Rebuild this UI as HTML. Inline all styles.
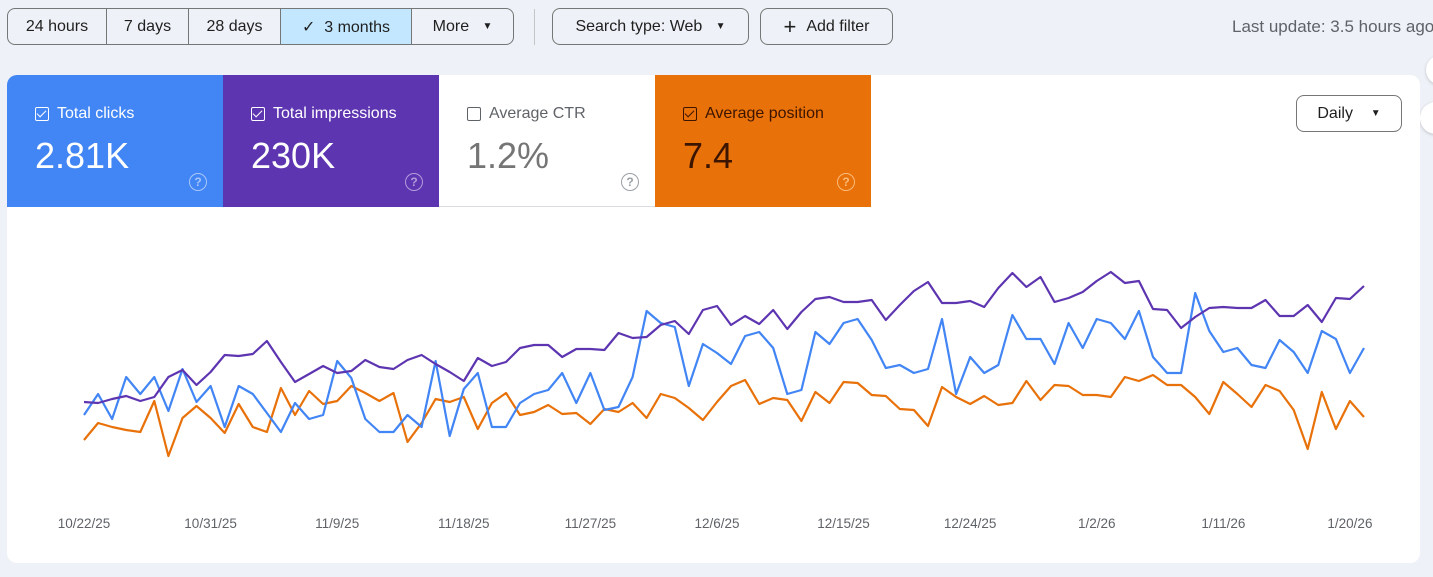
<!DOCTYPE html>
<html><head><meta charset="utf-8"><style>
*{box-sizing:border-box;margin:0;padding:0}
body{width:1433px;height:577px;background:#eef1f7;font-family:"Liberation Sans",sans-serif;position:relative;overflow:hidden}
.abs{position:absolute}
.seg{position:absolute;top:8px;height:37px;border:1px solid #747775;display:flex;align-items:center;justify-content:center;font-size:16px;color:#1f1f1f;background:#eef1f7}
.btn{position:absolute;top:8px;height:37px;border:1px solid #747775;border-radius:8px;display:flex;align-items:center;justify-content:center;font-size:16px;color:#1f1f1f}
.tile{position:absolute;top:75px;height:132px;width:216px}
.tl{position:absolute;left:28px;top:30px;font-size:16px;display:flex;align-items:center;gap:8px}
.cb{width:14px;height:14px;border:1.5px solid currentColor;border-radius:2px;position:relative}
.cb.on::after{content:"";position:absolute;left:3px;top:0px;width:4px;height:8px;border:solid currentColor;border-width:0 1.6px 1.6px 0;transform:rotate(45deg)}
.tv{position:absolute;left:28px;top:60px;font-size:36px}
.help{position:absolute;left:182px;top:98px;width:18px;height:18px;border:1.6px solid;border-radius:50%;font-size:12px;font-weight:bold;display:flex;align-items:center;justify-content:center}
</style></head><body>
<div class="seg" style="left:7px;width:100px;border-radius:8px 0 0 8px">24 hours</div>
<div class="seg" style="left:106px;width:83px">7 days</div>
<div class="seg" style="left:188px;width:93px">28 days</div>
<div class="seg" style="left:280px;width:132px;background:#c2e7ff">✓&nbsp;&nbsp;3 months</div>
<div class="seg" style="left:411px;width:103px;border-radius:0 8px 8px 0">More&nbsp;&nbsp;&nbsp;<span style="font-size:10px">▼</span></div>
<div class="abs" style="left:534px;top:9px;width:1px;height:36px;background:#c4c7c5"></div>
<div class="btn" style="left:552px;width:197px">Search type: Web&nbsp;&nbsp;&nbsp;<span style="font-size:10px">▼</span></div>
<div class="btn" style="left:760px;width:133px"><span style="font-size:22px;font-weight:300;margin-right:10px">+</span>Add filter</div>
<div class="abs" style="left:1232px;top:17px;font-size:17px;color:#5f6368;white-space:nowrap">Last update: 3.5 hours ago</div>
<div class="abs" style="left:1426px;top:55px;width:30px;height:30px;border-radius:50%;background:#fff;box-shadow:0 1px 3px rgba(0,0,0,.2)"></div>
<div class="abs" style="left:1420px;top:102px;width:32px;height:32px;border-radius:50%;background:#fff;box-shadow:0 1px 3px rgba(0,0,0,.2)"></div>

<div class="abs" style="left:7px;top:75px;width:1413px;height:488px;background:#fff;border-radius:10px;overflow:hidden">
</div>
<div class="tile" style="left:7px;background:#4285f4;color:#fff;border-radius:10px 0 0 0">
 <div class="tl"><span class="cb on"></span><span>Total clicks</span></div>
 <div class="tv">2.81K</div>
 <div class="help" style="color:#a8c7fa">?</div>
</div>
<div class="tile" style="left:223px;background:#5e35b1;color:#fff">
 <div class="tl"><span class="cb on"></span><span>Total impressions</span></div>
 <div class="tv">230K</div>
 <div class="help" style="color:#b39ddb">?</div>
</div>
<div class="tile" style="left:439px;background:#fff;color:#5f6368;border-bottom:1px solid #dadce0">
 <div class="tl"><span class="cb"></span><span>Average CTR</span></div>
 <div class="tv" style="color:#757575">1.2%</div>
 <div class="help" style="color:#9aa0a6">?</div>
</div>
<div class="tile" style="left:655px;background:#e8710a;color:#3c1500">
 <div class="tl"><span class="cb on"></span><span>Average position</span></div>
 <div class="tv">7.4</div>
 <div class="help" style="color:#fbbc7a">?</div>
</div>
<div class="btn" style="left:1296px;top:95px;width:106px;background:#fff">Daily&nbsp;&nbsp;&nbsp;&nbsp;<span style="font-size:10px">▼</span></div>

<svg id="chart" class="abs" style="left:0;top:0" width="1433" height="577"></svg>
<script>
const tickLabels=["10/22/25","10/31/25","11/9/25","11/18/25","11/27/25","12/6/25","12/15/25","12/24/25","1/2/26","1/11/26","1/20/26"];
const tickDayIndex=[0,9,18,27,36,45,54,63,72,81,90];
const impressions=[78,77,81,84,79,83,103,110,95,108,125,124,126,139,118,98,106,114,107,109,120,113,111,
120,125,116,108,99,122,114,118,132,135,135,123,131,131,130,147,142,143,155,159,146,170,174,
155,164,156,170,151,168,181,183,178,178,180,160,175,189,198,177,177,179,173,192,207,193,203,
178,182,188,199,208,197,199,171,170,152,163,172,173,172,172,180,164,164,175,158,182,181,194];
const clicks=[65,86,61,103,86,103,69,111,78,94,53,94,86,67,48,77,61,65,119,102,61,48,48,
65,53,119,44,91,107,53,53,77,86,90,107,77,107,70,73,103,169,157,153,94,136,127,
116,144,148,132,86,90,148,136,157,161,140,112,115,107,111,161,86,123,107,115,165,141,141,
116,157,132,161,157,141,169,123,107,107,187,149,128,132,115,112,140,128,107,149,141,107,132];
const position=[40,57,53,50,48,79,24,62,74,62,47,76,53,48,92,65,89,76,79,94,87,79,87,
38,57,81,78,83,51,77,87,65,68,75,66,67,56,71,68,77,62,86,82,72,60,78,
94,100,76,82,80,59,88,77,98,97,85,84,71,70,54,93,83,76,84,75,77,99,80,
95,94,85,85,83,103,99,105,95,95,83,66,98,86,73,95,89,70,31,88,51,79,63];
const NS="http://www.w3.org/2000/svg";
const svg=document.getElementById('chart');
const x0=84,step=(1364-84)/91;
function xs(i){return x0+i*step;}
function ys(v){return 480-v;}
function line(arr,color,name){
  const p=document.createElementNS(NS,'polyline');
  p.setAttribute('points',arr.map((v,i)=>xs(i).toFixed(1)+','+ys(v).toFixed(1)).join(' '));
  p.setAttribute('fill','none');p.setAttribute('stroke',color);p.setAttribute('stroke-width','2.2');
  p.setAttribute('stroke-linejoin','round');
  
  
  svg.appendChild(p);
}
line(position,'#e8710a','position-line');
line(clicks,'#4285f4','clicks-line');
line(impressions,'#5e35b1','impressions-line');
tickLabels.forEach((t,k)=>{
  const tx=document.createElementNS(NS,'text');
  tx.setAttribute('x',xs(tickDayIndex[k]));tx.setAttribute('y',528);
  tx.setAttribute('text-anchor','middle');tx.setAttribute('font-size','13.5');tx.setAttribute('fill','#5f6368');
  tx.setAttribute('font-family','Liberation Sans, sans-serif');
  tx.textContent=t;
  
  
  svg.appendChild(tx);
});
</script>
</body></html>
